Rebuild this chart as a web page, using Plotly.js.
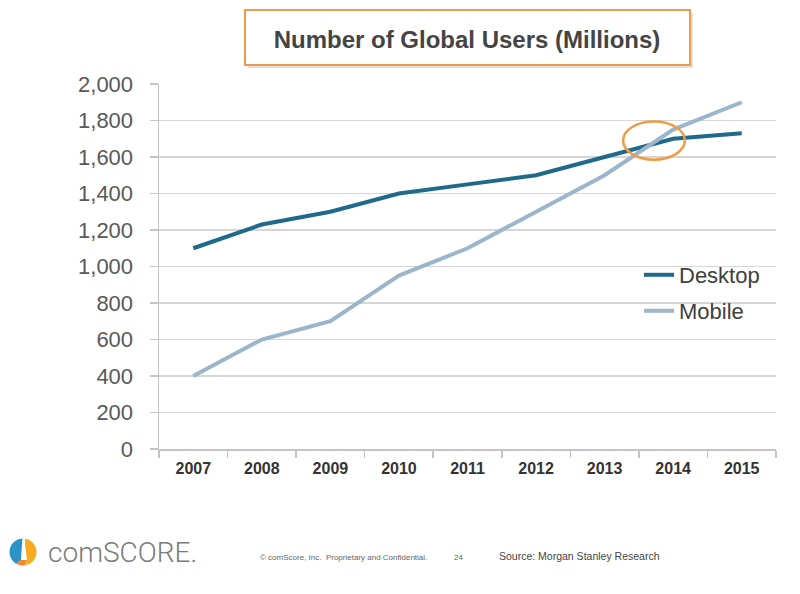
<!DOCTYPE html>
<html>
<head>
<meta charset="utf-8">
<script src="https://cdn.plot.ly/plotly-3.0.1.min.js"></script>
<style>html,body{margin:0;padding:0;background:#fff;}#chart{width:800px;height:594px;}</style>
</head>
<body>
<div id="chart"></div>
<script>
const years = ['2007','2008','2009','2010','2011','2012','2013','2014','2015'];
const desktopUsers = [1100, 1230, 1300, 1400, 1450, 1500, 1600, 1700, 1730];
const mobileUsers = [400, 600, 700, 950, 1100, 1300, 1500, 1750, 1900];
const yTickValues = [0, 200, 400, 600, 800, 1000, 1200, 1400, 1600, 1800, 2000];
const yTickLabels = ['0','200','400','600','800','1,000','1,200','1,400','1,600','1,800','2,000'];

const W = 800, H = 594;
const L = 159, R = 776, T = 84, B = 449;
const px = v => (v - L) / (R - L);
const py = v => (B - v) / (B - T);

function poly(pts) {
  return pts.map((p, i) => (i ? 'L ' : 'M ') + px(p[0]) + ' ' + py(p[1])).join(' ') + ' Z';
}
function arcPts(cx, cy, r, a0, a1, n) {
  const out = [];
  for (let i = 0; i <= n; i++) {
    const a = (a0 + (a1 - a0) * i / n) * Math.PI / 180;
    out.push([cx + r * Math.cos(a), cy + r * Math.sin(a)]);
  }
  return out;
}
const LC = [23, 552], LR = 13.5;
const logoBlue = poly([[22, 544], [21, 560]].concat(arcPts(LC[0], LC[1], LR, 120, 268, 24)));
const logoOrange = poly([[25, 544], [27, 560]].concat(arcPts(LC[0], LC[1], LR, 78, -82, 28)));
const logoOrangeB = poly([[21, 560], [27, 560]].concat(arcPts(LC[0], LC[1], LR, 80, 122, 8)));

const traces = [
  {x: years, y: desktopUsers, name: 'Desktop', type: 'scatter', mode: 'lines',
   line: {color: '#1f6a8b', width: 4}, legend: 'legend'},
  {x: years, y: mobileUsers, name: 'Mobile', type: 'scatter', mode: 'lines',
   line: {color: '#9bb5ca', width: 4}, legend: 'legend2'}
];

const fontMain = 'Liberation Sans, Arial, Helvetica, sans-serif';
const legendFont = {family: fontMain, size: 22, color: '#404040'};

const layout = {
  width: W, height: H,
  paper_bgcolor: '#ffffff', plot_bgcolor: '#ffffff',
  margin: {l: L, r: W - R, t: T, b: H - B, pad: 0},
  showlegend: true,
  legend: {x: px(639), y: py(275), xanchor: 'left', yanchor: 'middle',
           bgcolor: 'rgba(0,0,0,0)', font: legendFont, itemwidth: 30},
  legend2: {x: px(639), y: py(311), xanchor: 'left', yanchor: 'middle',
           bgcolor: 'rgba(0,0,0,0)', font: legendFont, itemwidth: 30},
  title: {text: '<b>Number of Global Users (Millions)</b>', x: 467 / W, xref: 'container',
          xanchor: 'center', y: 1 - 40 / H, yref: 'container', yanchor: 'middle',
          font: {family: fontMain, size: 24, color: '#444444'}},
  xaxis: {type: 'category', range: [-0.5, 8.5], showgrid: false, zeroline: false,
          showline: true, linecolor: '#c4c4c4', linewidth: 1.5,
          ticks: 'outside', tickson: 'boundaries', ticklen: 7, tickcolor: '#c4c4c4', tickwidth: 1.5,
          tickfont: {family: fontMain, size: 16, color: '#333333', weight: 'bold'},
          ticklabelstandoff: 4, fixedrange: true},
  yaxis: {range: [0, 2000], tickvals: yTickValues, ticktext: yTickLabels,
          showgrid: true, gridcolor: '#d6d6d6', gridwidth: 1.5, zeroline: false,
          showline: true, linecolor: '#c4c4c4', linewidth: 1.5,
          ticks: 'outside', ticklen: 8, tickcolor: '#c4c4c4', tickwidth: 1.5,
          tickfont: {family: fontMain, size: 22, color: '#595959'},
          ticklabelstandoff: 12, fixedrange: true},
  shapes: [
    {type: 'rect', xref: 'paper', yref: 'paper', x0: px(248), x1: px(693), y0: py(13), y1: py(68),
     line: {width: 0}, fillcolor: 'rgba(0,0,0,0.12)', layer: 'below'},
    {type: 'rect', xref: 'paper', yref: 'paper', x0: px(245), x1: px(690), y0: py(10), y1: py(65),
     line: {color: '#ee9a4d', width: 2}, fillcolor: '#ffffff', layer: 'below'},
    {type: 'circle', xref: 'x', yref: 'y', x0: 6.27, x1: 7.17, y0: 1585, y1: 1795,
     line: {color: '#ef9b45', width: 2.5}},
    {type: 'path', xref: 'paper', yref: 'paper', path: logoBlue, line: {width: 0}, fillcolor: '#2b93c8'},
    {type: 'path', xref: 'paper', yref: 'paper', path: logoOrange, line: {width: 0}, fillcolor: '#f7ab1f'},
    {type: 'path', xref: 'paper', yref: 'paper', path: logoOrangeB, line: {width: 0}, fillcolor: '#f08a2e'}
  ],
  annotations: [
    {text: 'comSCORE.', xref: 'paper', yref: 'paper', x: px(46), y: py(552), xanchor: 'left', yanchor: 'middle',
     showarrow: false, font: {family: 'Roboto, Liberation Sans, sans-serif', size: 28, weight: 300, color: '#7a7a7a'}},
    {text: '© comScore, Inc.  Proprietary and Confidential.', xref: 'paper', yref: 'paper', x: px(258), y: py(557),
     xanchor: 'left', yanchor: 'middle', showarrow: false,
     font: {family: fontMain, size: 8, color: '#666666'}},
    {text: '24', xref: 'paper', yref: 'paper', x: px(458), y: py(557), xanchor: 'center', yanchor: 'middle',
     showarrow: false, font: {family: fontMain, size: 8, color: '#666666'}},
    {text: 'Source: Morgan Stanley Research', xref: 'paper', yref: 'paper', x: px(497), y: py(556),
     xanchor: 'left', yanchor: 'middle', showarrow: false,
     font: {family: fontMain, size: 10.5, color: '#444444'}}
  ]
};

Plotly.newPlot('chart', traces, layout, {displayModeBar: false, staticPlot: true});
</script>
</body>
</html>
